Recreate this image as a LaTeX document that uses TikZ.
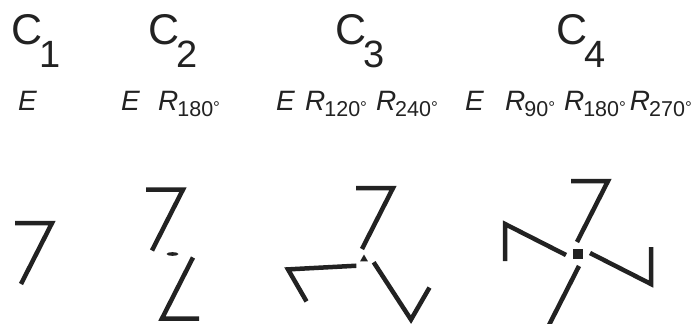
\documentclass[tikz,border=0pt]{standalone}
\usepackage{fontspec}
\setmainfont{Liberation Sans}
\usepackage{tikz}
\usetikzlibrary{positioning}
\definecolor{inkgray}{RGB}{34, 34, 34}
% group name C_n and rotation R_phi
\newcommand{\grp}[1]{C\kern-3pt\raisebox{-22pt}{\fontsize{38}{38}\selectfont #1}}
\newcommand{\rot}[1]{\textit{R}\kern-1pt\raisebox{-6pt}{\fontsize{21.5}{21.5}\selectfont #1\raisebox{3pt}{\fontsize{17}{17}\selectfont °}}}
% the motif: corner at #1, bar to the left, stroke down-left
\newcommand{\seven}[1]{\draw[arm] #1 ++(-37,0) -- ++(37,0) -- ++(-31,-61);}
\tikzset{
  arm/.style={draw=inkgray, line width=4.5pt},
  centremark/.style={fill=inkgray},
  head/.style={font=\fontsize{43}{43}\selectfont, text=inkgray, inner sep=0pt, anchor=base west},
  lab/.style={font=\fontsize{28}{28}\selectfont, text=inkgray, inner sep=0pt, anchor=base west},
}

\begin{document}
\begin{tikzpicture}[x=1pt, y=1pt]
\clip (0,-324) rectangle (694,0);
\fill[white] (0,-324) rectangle (694,0);

\node[head] (h1) at (11,-45) {\grp{1}};
\node[head] (h2) at (148,-45) {\grp{2}};
\node[head] (h3) at (335,-45) {\grp{3}};
\node[head] (h4) at (556,-45) {\grp{4}};

\node[lab] (e1) at (18,-110) {\textit{E}};
\node[lab] (e2) at (121,-110) {\textit{E}\hspace{18pt}\rot{180}};
\node[lab] (e3) at (276,-110) {\textit{E}\hspace{10pt}\rot{120}\hspace{9pt}\rot{240}};
\node[lab] (e4) at (465,-110) {\textit{E}\hspace{21pt}\rot{90}\hspace{9pt}\rot{180}\hspace{4pt}\rot{270}};

% rotation centres
\coordinate (c2) at (172.5,-254);
\coordinate (c3) at (364,-259);
\coordinate (c4) at (578,-254);

% C1
\seven{(52,-223)}
% C2
\foreach \a in {0,180}{
  \begin{scope}[shift={(c2)}, rotate=\a]
    \seven{(10.5,64.5)}
  \end{scope}
}
\fill[centremark] (c2) ellipse [x radius=6, y radius=1.8];
% C3
\foreach \a in {0,120,240}{
  \begin{scope}[shift={(c3)}, rotate=\a]
    \seven{(29,71)}
  \end{scope}
}
\fill[centremark] (c3) +(90:4.5) -- +(210:4.5) -- +(330:4.5) -- cycle;
% C4
\foreach \a in {0,90,180,270}{
  \begin{scope}[shift={(c4)}, rotate=\a]
    \seven{(30,73)}
  \end{scope}
}
\fill[centremark] (c4) +(-5,-5) rectangle +(5,5);

\end{tikzpicture}
\end{document}
